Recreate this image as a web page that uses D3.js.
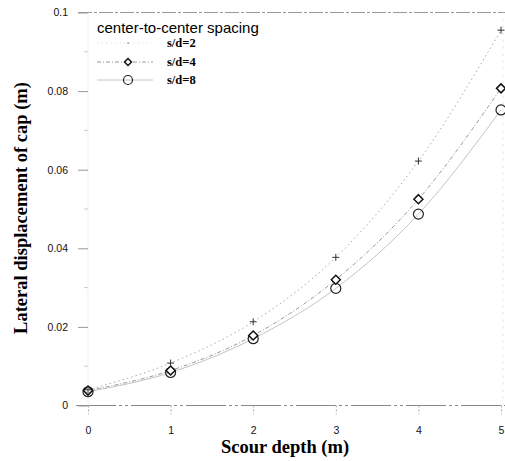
<!DOCTYPE html>
<html>
<head>
<meta charset="utf-8">
<script src="https://cdn.jsdelivr.net/npm/d3@7/dist/d3.min.js"></script>
<style>
html,body{margin:0;padding:0;background:#fff;}
svg{display:block;}
</style>
</head>
<body>
<svg id="chart" width="505" height="461"></svg>
<script>
const depths = [0, 1, 2, 3, 4, 5];
const sd2 = [0.0040, 0.0108, 0.0213, 0.0377, 0.0622, 0.0955];
const sd4 = [0.0038, 0.0089, 0.0178, 0.0320, 0.0525, 0.0807];
const sd8 = [0.0035, 0.0084, 0.0170, 0.0298, 0.0487, 0.0752];
const xTicks = [0, 1, 2, 3, 4, 5];
const yTicks = [0, 0.02, 0.04, 0.06, 0.08, 0.1];
const yMinor = [0.01, 0.03, 0.05, 0.07, 0.09];
const seriesNames = ["s/d=2", "s/d=4", "s/d=8"];
const legendTitle = "center-to-center spacing";
const xTitle = "Scour depth (m)";
const yTitle = "Lateral displacement of cap (m)";

const svg = d3.select("#chart");
const x = d3.scaleLinear().domain([0, 5]).range([88, 501]);
const y = d3.scaleLinear().domain([0, 0.1]).range([405.5, 12.5]);

// frame lines
svg.append("line").attr("x1", 78).attr("x2", 505).attr("y1", y(0.1)).attr("y2", y(0.1))
  .attr("stroke", "#999").attr("stroke-width", 1.2).attr("stroke-dasharray", "14,2,3,2");
svg.append("line").attr("x1", 76).attr("x2", 505).attr("y1", y(0)).attr("y2", y(0))
  .attr("stroke", "#888").attr("stroke-width", 1.2).attr("stroke-dasharray", "40,3,3,3,3,3");
svg.append("line").attr("x1", x(0)).attr("x2", x(0)).attr("y1", y(0)).attr("y2", y(0.1))
  .attr("stroke", "#f0f0f0").attr("stroke-width", 1);
svg.append("line").attr("x1", 503).attr("x2", 503).attr("y1", y(0)).attr("y2", y(0.1))
  .attr("stroke", "#ddd").attr("stroke-width", 1).attr("stroke-dasharray", "2,5");

// axes
const yAxis = d3.axisLeft(y).tickValues(yTicks).tickSize(10).tickPadding(10)
  .tickFormat(d => d === 0 ? "0" : d3.format("")(+d.toFixed(2)));
const gy = svg.append("g").attr("transform", `translate(${x(0)},0)`).call(yAxis);
gy.select(".domain").remove();
gy.selectAll(".tick line").attr("stroke", "#999").attr("stroke-width", 1);
gy.selectAll(".tick text").attr("font-family", "Liberation Sans, Arial, sans-serif")
  .attr("font-size", 10.5).attr("fill", "#111");

svg.append("g").selectAll("line").data(yMinor).join("line")
  .attr("x1", x(0) - 4).attr("x2", x(0)).attr("y1", d => y(d)).attr("y2", d => y(d))
  .attr("stroke", "#ccc");

const xAxis = d3.axisBottom(x).tickValues(xTicks).tickSize(9).tickPadding(12)
  .tickFormat(d3.format("d"));
const gx = svg.append("g").attr("transform", `translate(0,${y(0)})`).call(xAxis);
gx.select(".domain").remove();
gx.selectAll(".tick line").attr("stroke", "#aaa").attr("stroke-dasharray", "2,2");
gx.selectAll(".tick text").attr("font-family", "Liberation Sans, Arial, sans-serif")
  .attr("font-size", 10.5).attr("fill", "#111");

// titles
svg.append("text").attr("x", 285).attr("y", 453).attr("text-anchor", "middle")
  .attr("font-family", "Liberation Serif, Times New Roman, serif").attr("font-weight", "bold")
  .attr("font-size", 18.5).attr("fill", "#000").text(xTitle);
svg.append("text").attr("transform", "translate(27,208) rotate(-90)").attr("text-anchor", "middle")
  .attr("font-family", "Liberation Serif, Times New Roman, serif").attr("font-weight", "bold")
  .attr("font-size", 18.5).attr("fill", "#000").text(yTitle);

// series lines
const line = d3.line().x((d, i) => x(depths[i])).y(d => y(d)).curve(d3.curveMonotoneX);
const styles = [
  {data: sd2, stroke: "#aaa", dash: "1.5,3", w: 1},
  {data: sd4, stroke: "#999", dash: "4,2,1,2", w: 1},
  {data: sd8, stroke: "#c4c4c4", dash: null, w: 1}
];
styles.forEach(s => {
  svg.append("path").attr("d", line(s.data)).attr("fill", "none")
    .attr("stroke", s.stroke).attr("stroke-width", s.w)
    .attr("stroke-dasharray", s.dash);
});

// markers
function plus(g, cx, cy, r) {
  g.append("path").attr("d", `M${cx - r},${cy}H${cx + r}M${cx},${cy - r}V${cy + r}`)
    .attr("stroke", "#333").attr("stroke-width", 1).attr("fill", "none");
}
function diamond(g, cx, cy, r) {
  g.append("path").attr("d", `M${cx},${cy - r}L${cx + r},${cy}L${cx},${cy + r}L${cx - r},${cy}Z`)
    .attr("stroke", "#111").attr("stroke-width", 1.5).attr("fill", "#fff");
}
function circle(g, cx, cy, r) {
  g.append("circle").attr("cx", cx).attr("cy", cy).attr("r", r)
    .attr("stroke", "#222").attr("stroke-width", 1.2).attr("fill", "none");
}
const gm = svg.append("g");
sd8.forEach((v, i) => circle(gm, x(depths[i]), y(v), 5));
sd4.forEach((v, i) => diamond(gm, x(depths[i]), y(v), 4.5));
sd2.forEach((v, i) => plus(gm, x(depths[i]), y(v), 3.5));

// legend
const lg = svg.append("g");
lg.append("text").attr("x", 97).attr("y", 33).attr("font-family", "Liberation Sans, Arial, sans-serif")
  .attr("font-size", 15).attr("fill", "#000").text(legendTitle);
const ly = [43, 62, 80];
seriesNames.forEach((name, i) => {
  const s = styles[i];
  lg.append("line").attr("x1", 97).attr("x2", 153).attr("y1", ly[i]).attr("y2", ly[i])
    .attr("stroke", i === 0 ? "#e4e4e4" : s.stroke).attr("stroke-width", 1)
    .attr("stroke-dasharray", s.dash);
  if (i === 0) lg.append("rect").attr("x", 127.5).attr("y", ly[i] - 0.5).attr("width", 1.2).attr("height", 1.2).attr("fill", "#555");
  if (i === 1) diamond(lg, 128, ly[i], 3.5);
  if (i === 2) circle(lg, 128, ly[i], 4.5);
  lg.append("text").attr("x", 167).attr("y", ly[i] + 4).attr("font-family", "Liberation Serif, Times New Roman, serif")
    .attr("font-weight", "bold").attr("font-size", 12.5).attr("fill", "#000").text(name);
});
</script>
</body>
</html>
